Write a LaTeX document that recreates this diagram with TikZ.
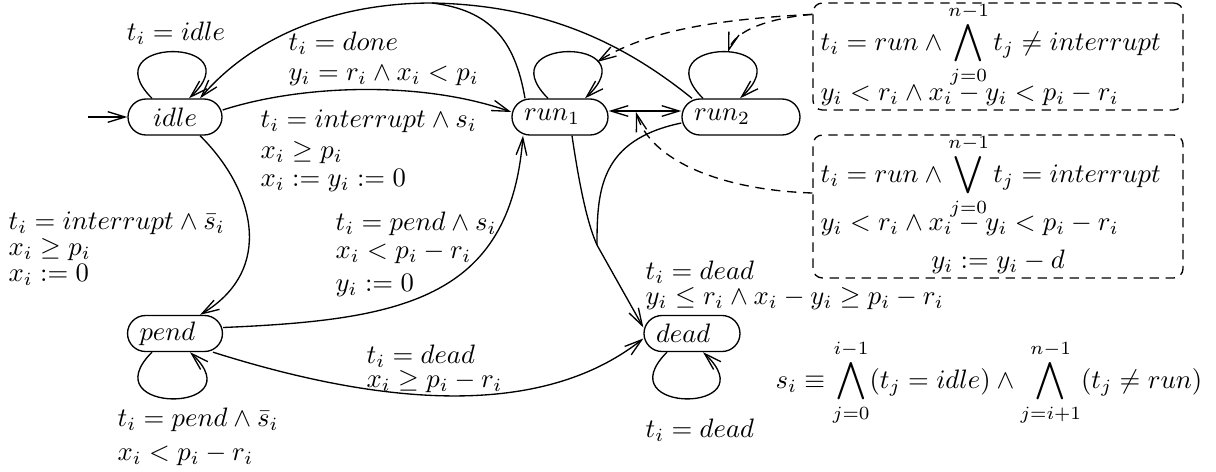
\documentclass[tikz,border=0pt]{standalone}
\usetikzlibrary{arrows.meta,calc}
\begin{document}
\begin{tikzpicture}[x=0.375pt,y=-0.375pt,line width=0.5pt,
  >={Straight Barb[length=6.5pt,width=4pt]},
  state/.style={draw,rounded corners=6.75pt,minimum height=13.5pt,inner xsep=4.5pt,inner ysep=0pt,align=left},
  lbl/.style={anchor=west,inner sep=0pt},
  clbl/.style={inner sep=0pt},
  dbox/.style={draw,dash pattern=on 3.5pt off 2.5pt,rounded corners=3.5pt,inner sep=0pt},
  darrow/.style={->,dash pattern=on 3.5pt off 2.5pt}]
\useasboundingbox (0,0) rectangle (1216,472);

% states
\node[state,text width=26.25pt,align=center] (idle) at (175,117) {$idle$};
\node[state,text width=27pt] (run1) at (560,117) {$run_1$};
\node[state,text width=35.25pt] (run2) at (741,117) {$run_2$};
\node[state,text width=26.6pt] (pend) at (175,333.5) {$pend$};
\node[state,text width=27pt] (dead) at (692,333.5) {$dead$};

% initial arrow
\coordinate (init) at (88,117);
\draw[->] (init) -- (idle.west);

% self loops
\draw[->] ($(idle.north)+(-23,0)$) .. controls +(-62,-62) and +(66,-62) .. ($(idle.north)+(14,0)$);
\draw[->] ($(run1.north)+(-12,0)$) .. controls +(-62,-62) and +(66,-62) .. ($(run1.north)+(25,0)$);
\draw[->] ($(run2.north)+(-38,0)$) .. controls +(-62,-62) and +(66,-62) .. ($(run2.north)+(-1,0)$);
\draw[->] ($(pend.south)+(-23,0)$) .. controls +(-62,62) and +(66,62) .. ($(pend.south)+(15,0)$);
\draw[->] ($(dead.south)+(-25,0)$) .. controls +(-62,62) and +(66,62) .. ($(dead.south)+(11,0)$);

% idle -> run1
\draw[->] ($(idle.east)+(0,-7)$) .. controls (300,85) and (420,80) .. ($(run1.west)+(0,-5)$);

% run1, run2 -> idle (done)
\coordinate (j) at (432,3);
\draw ($(run1.north)+(-35,0)$) .. controls (515,40) and (490,10) .. (j);
\draw ($(run2.north)+(-49,0)$) .. controls (620,40) and (540,5) .. (j);
\draw[->] (j) .. controls (330,3) and (250,40) .. ($(idle.north)+(25,0)$);

% idle -> pend
\draw[->] ($(idle.south)+(25,0)$) .. controls (255,190) and (275,270) .. ($(pend.north)+(25,0)$);

% pend -> run1
\draw[->] ($(pend.east)+(0,-6)$) .. controls (400,320) and (510,300) .. ($(run1.south)+(-37,0)$);

% pend -> dead
\draw[->] ($(pend.south)+(38,0)$) .. controls (380,405) and (540,420) .. ($(dead.west)+(0,5)$);

% run1, run2 -> dead
\coordinate (k) at (597,245);
\draw ($(run1.south)+(12,0)$) .. controls (580,190) and (588,225) .. (k);
\draw ($(run2.west)+(0,6)$) .. controls (600,140) and (597,190) .. (k);
\draw[->] (k) -- ($(dead.west)+(0,-6)$);

% run1 <-> run2
\draw[<->] ($(run1.east)+(0,-6)$) -- ($(run2.west)+(0,-6)$);

% dashed boxes
\node[dbox,minimum width=138.75pt,minimum height=40.1pt] (ub) at (998,56.5) {};
\node[dbox,minimum width=138.75pt,minimum height=53.6pt] (lb) at (998,206.5) {};

\coordinate (l1) at (597,62);
\coordinate (l2) at (728,52);
\coordinate (m) at (636,112);
\draw[darrow] ($(ub.north west)+(0,12)$) .. controls (700,20) and (640,35) .. (l1);
\draw[darrow] ($(ub.north west)+(0,12)$) .. controls (770,18) and (735,30) .. (l2);
\draw[darrow] ($(lb.west)+(0,-13.5)$) .. controls (720,190) and (650,160) .. (m);

% box texts
\node[lbl] (ub1) at (820,45) {$t_i = run \wedge \displaystyle\bigwedge_{j=0}^{n-1} t_j \neq interrupt$};
\node[lbl] (ub2) at (820,95) {$y_i < r_i \wedge x_i - y_i < p_i - r_i$};
\node[lbl] (lb1) at (820,177) {$t_i = run \wedge \displaystyle\bigvee_{j=0}^{n-1} t_j = interrupt$};
\node[lbl] (lb2) at (820,225) {$y_i < r_i \wedge x_i - y_i < p_i - r_i$};
\node[clbl] (lb3) at (998,262) {$y_i := y_i - d$};

% edge labels
\node[clbl] (t1) at (176,33) {$t_i = idle$};
\node[lbl] (t2) at (288,43) {$t_i = done$};
\node[lbl] (t3) at (288,76) {$y_i = r_i \wedge x_i < p_i$};
\node[lbl] (t4) at (260,121) {$t_i = interrupt \wedge s_i$};
\node[lbl] (t5) at (260,153) {$x_i \geq p_i$};
\node[lbl] (t6) at (260,180) {$x_i := y_i := 0$};
\node[lbl] (t7) at (8,223) {$t_i = interrupt \wedge \bar{s}_i$};
\node[lbl] (t8) at (8,250) {$x_i \geq p_i$};
\node[lbl] (t9) at (8,275) {$x_i := 0$};
\node[lbl] (t10) at (335,224) {$t_i = pend \wedge s_i$};
\node[lbl] (t11) at (335,253) {$x_i < p_i - r_i$};
\node[lbl] (t12) at (335,285) {$y_i := 0$};
\node[lbl] (t13) at (645,272) {$t_i = dead$};
\node[lbl] (t14) at (645,299) {$y_i \leq r_i \wedge x_i - y_i \geq p_i - r_i$};
\node[lbl] (t15) at (366,356) {$t_i = dead$};
\node[lbl] (t16) at (366,382) {$x_i \geq p_i - r_i$};
\node[lbl] (t17) at (645,430) {$t_i = dead$};
\node[lbl] (t18) at (117,420) {$t_i = pend \wedge \bar{s}_i$};
\node[lbl] (t19) at (117,455) {$x_i < p_i - r_i$};
\node[lbl] (t20) at (775,383) {$s_i \equiv \displaystyle\bigwedge_{j=0}^{i-1} (t_j = idle) \wedge \bigwedge_{j=i+1}^{n-1} (t_j \neq run)$};
\end{tikzpicture}
\end{document}
